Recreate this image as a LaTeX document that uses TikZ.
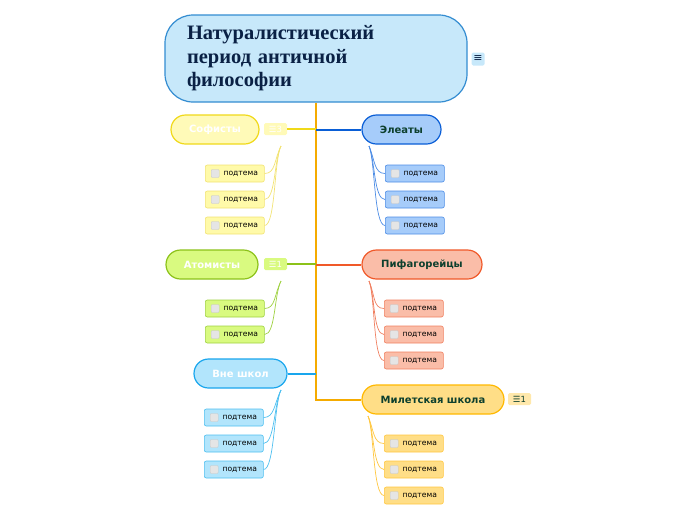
\documentclass[tikz,border=0pt]{standalone}
\usepackage{fontspec}
\setmainfont{DejaVu Sans}
\newfontfamily\titlefont{Liberation Serif}
\usetikzlibrary{calc}
\definecolor{RootFill}{rgb}{0.78,0.91,0.98}
\definecolor{RootLine}{rgb}{0.2,0.55,0.82}
\definecolor{RootText}{rgb}{0.04,0.13,0.27}
\definecolor{TrunkClr}{rgb}{0.96,0.67,0}
\definecolor{DarkTxt}{rgb}{0.05,0.25,0.18}
\definecolor{SofFill}{rgb}{1,0.98,0.72}
\definecolor{SofLine}{rgb}{0.94,0.85,0.1}
\definecolor{SofSubLine}{rgb}{0.95,0.89,0.45}
\definecolor{EleFill}{rgb}{0.65,0.8,0.98}
\definecolor{EleLine}{rgb}{0.04,0.37,0.84}
\definecolor{EleSubLine}{rgb}{0.3,0.55,0.9}
\definecolor{AtoFill}{rgb}{0.85,0.98,0.5}
\definecolor{AtoLine}{rgb}{0.55,0.76,0.1}
\definecolor{AtoSubLine}{rgb}{0.62,0.82,0.25}
\definecolor{PifFill}{rgb}{0.98,0.74,0.66}
\definecolor{PifLine}{rgb}{0.94,0.35,0.16}
\definecolor{PifSubLine}{rgb}{0.94,0.5,0.38}
\definecolor{VneFill}{rgb}{0.7,0.9,0.99}
\definecolor{VneLine}{rgb}{0.1,0.65,0.93}
\definecolor{VneSubLine}{rgb}{0.3,0.75,0.94}
\definecolor{MilFill}{rgb}{1,0.87,0.53}
\definecolor{MilLine}{rgb}{1,0.72,0}
\definecolor{MilSubLine}{rgb}{1,0.78,0.25}

\begin{document}
\begin{tikzpicture}[x=1pt,y=-1pt,
  branch/.style={draw,line width=1.2pt,rounded corners=14.5pt,minimum height=29pt,
    inner sep=0pt,font=\fontsize{10}{11}\selectfont\bfseries},
  sub/.style={draw,line width=0.6pt,rounded corners=2pt,minimum width=59pt,minimum height=17pt,
    inner sep=0pt,text height=4.8pt,text depth=0.4pt,anchor=west,font=\fontsize{7.6}{8}\selectfont},
  chk/.style={draw=black!22,fill=black!10,rounded corners=1pt,minimum size=8pt,inner sep=0pt,anchor=west},
  icon/.style={rounded corners=1.5pt,minimum width=23pt,minimum height=12pt,inner sep=0pt,
    font=\fontsize{8.5}{9}\selectfont},
  link/.style={line width=2pt},
  twig/.style={line width=0.7pt}]
\useasboundingbox (0,0) rectangle (696,520);

% main topic
\node[draw=RootLine,fill=RootFill,line width=1.2pt,rounded corners=28pt,minimum width=302pt,
  minimum height=87pt,inner xsep=22pt,text width=258pt,align=left,text=RootText,
  font=\titlefont\fontsize{20.5}{23.5}\selectfont\bfseries] (Root) at (316,58.5)
  {Натуралистический\\период античной\\философии};
\node[fill=RootFill,rounded corners=1.5pt,minimum size=13pt,inner sep=0pt,text=RootText,
  font=\fontsize{11}{12}\selectfont] (RootI) at (478,59) {≡};

% branches
\node[branch,draw=SofLine,fill=SofFill,text=white,minimum width=88pt] (Sof) at (215,129.5) {Софисты};
\node[icon,fill=SofFill,text=white] (SofI) at (275.5,129) {☰3};
\node[branch,draw=EleLine,fill=EleFill,text=DarkTxt,minimum width=79pt] (Ele) at (401.5,129.5) {Элеаты};
\node[branch,draw=AtoLine,fill=AtoFill,text=white,minimum width=92pt] (Ato) at (212,264.5) {Атомисты};
\node[icon,fill=AtoFill,text=white] (AtoI) at (275.5,264) {☰1};
\node[branch,draw=PifLine,fill=PifFill,text=DarkTxt,minimum width=120pt] (Pif) at (422,264.5) {Пифагорейцы};
\node[branch,draw=VneLine,fill=VneFill,text=white,minimum width=93pt] (Vne) at (240.5,373.5) {Вне школ};
\node[branch,draw=MilLine,fill=MilFill,text=DarkTxt,minimum width=142pt] (Mil) at (433,399.5) {Милетская школа};
\node[icon,fill=MilFill!70,text=DarkTxt] (MilI) at (519.5,399) {☰1};

% trunk and branch links
\draw[link,TrunkClr] (Root.south) |- (Mil.west);
\draw[link,SofLine] (SofI.east) -- (SofI.east -| Root);
\draw[link,EleLine] (Ele.west) -- (Ele.west -| Root);
\draw[link,AtoLine] (AtoI.east) -- (AtoI.east -| Root);
\draw[link,PifLine] (Pif.west) -- (Pif.west -| Root);
\draw[link,VneLine] (Vne.east) -- (Vne.east -| Root);

% twig start points
\coordinate (SofT) at (281,146);
\coordinate (EleT) at (369,146);
\coordinate (AtoT) at (281,281);
\coordinate (PifT) at (369,281);
\coordinate (VneT) at (281,390);
\coordinate (MilT) at (368,416);

% subtopics
\foreach \n/\y in {1/173.5,2/199.5,3/225.5}{
  \node[sub,draw=SofSubLine,fill=SofFill!92!yellow] (Sof\n) at (205,\y) {\hspace{12pt}подтема};
  \node[chk] at ($(Sof\n.west)+(6,0)$) {};
  \draw[twig,SofSubLine] (SofT) .. controls ($(SofT)+(-7,14)$) and ($(Sof\n.east)+(11,0)$) .. (Sof\n.east);
  \node[sub,draw=EleSubLine,fill=EleFill] (Ele\n) at (385,\y) {\hspace{12pt}подтема};
  \node[chk] at ($(Ele\n.west)+(6,0)$) {};
  \draw[twig,EleSubLine] (EleT) .. controls ($(EleT)+(6,14)$) and ($(Ele\n.west)+(-11,0)$) .. (Ele\n.west);
}
\foreach \n/\y in {1/308.5,2/334.5}{
  \node[sub,draw=AtoSubLine,fill=AtoFill] (Ato\n) at (205,\y) {\hspace{12pt}подтема};
  \node[chk] at ($(Ato\n.west)+(6,0)$) {};
  \draw[twig,AtoSubLine] (AtoT) .. controls ($(AtoT)+(-7,14)$) and ($(Ato\n.east)+(11,0)$) .. (Ato\n.east);
}
\foreach \n/\y in {1/308.5,2/334.5,3/360.5}{
  \node[sub,draw=PifSubLine,fill=PifFill] (Pif\n) at (384,\y) {\hspace{12pt}подтема};
  \node[chk] at ($(Pif\n.west)+(6,0)$) {};
  \draw[twig,PifSubLine] (PifT) .. controls ($(PifT)+(6,14)$) and ($(Pif\n.west)+(-11,0)$) .. (Pif\n.west);
}
\foreach \n/\y in {1/417.5,2/443.5,3/469.5}{
  \node[sub,draw=VneSubLine,fill=VneFill] (Vne\n) at (204,\y) {\hspace{12pt}подтема};
  \node[chk] at ($(Vne\n.west)+(6,0)$) {};
  \draw[twig,VneSubLine] (VneT) .. controls ($(VneT)+(-7,14)$) and ($(Vne\n.east)+(11,0)$) .. (Vne\n.east);
}
\foreach \n/\y in {1/443.5,2/469.5,3/495.5}{
  \node[sub,draw=MilSubLine,fill=MilFill] (Mil\n) at (384,\y) {\hspace{12pt}подтема};
  \node[chk] at ($(Mil\n.west)+(6,0)$) {};
  \draw[twig,MilSubLine] (MilT) .. controls ($(MilT)+(6,14)$) and ($(Mil\n.west)+(-11,0)$) .. (Mil\n.west);
}
\end{tikzpicture}
\end{document}
